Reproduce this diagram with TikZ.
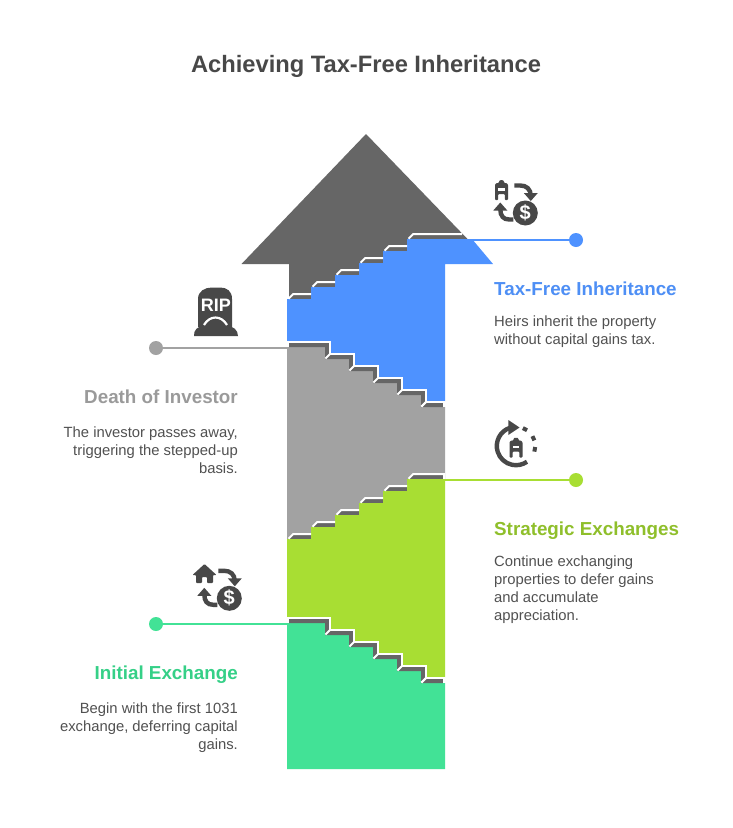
\documentclass[tikz,border=0pt]{standalone}
\usepackage{fontspec}
\setmainfont{Liberation Sans}
\definecolor{cdark}{HTML}{666666}
\definecolor{cicon}{HTML}{484848}
\definecolor{cblue}{HTML}{4E92FF}
\definecolor{cgray}{HTML}{A2A2A2}
\definecolor{cgreen}{HTML}{A8DE33}
\definecolor{cteal}{HTML}{42E296}
\definecolor{tblue}{HTML}{4E8FF5}
\definecolor{tgray}{HTML}{9A9A9A}
\definecolor{tgreen}{HTML}{8FBF2B}
\definecolor{tteal}{HTML}{35D087}
\tikzset{
  dot/.style={circle,inner sep=0pt,minimum size=14pt,fill=#1},
  link/.style={line width=2pt,draw=#1},
  whiteedge/.style={draw=white,line width=2pt,line join=miter,line cap=butt},
  heading/.style={inner sep=0pt,font=\fontsize{18.8}{22}\selectfont\bfseries,text=#1},
  bodytxt/.style={inner sep=0pt,font=\fontsize{14.8}{18}\selectfont,text=cicon!95!white},
  iconline/.style={draw=cicon,line width=4.4pt,line cap=butt}
}
% x y : top left of a small building 13x20
\newcommand{\bldgicon}[2]{%
  \begin{scope}[shift={(#1,#2)}]
    \fill[cicon,rounded corners=0.8pt] (0,20) -- (0,4.5) -- (1.5,3) -- (4,3) -- (4,0.8) -- (6.5,0) -- (9,0.8) -- (9,3) -- (11.5,3) -- (13,4.5) -- (13,20) -- (9.8,20) -- (9.8,14) -- (3.2,14) -- (3.2,20) -- cycle;
    \fill[white] (3.4,8.4) rectangle (9.6,10.6);
  \end{scope}}
% x y : centre of a dollar coin
\newcommand{\coinicon}[3]{%
  \node[circle,fill=cicon,minimum size=25pt,inner sep=0pt,text=white,font=\fontsize{20}{20}\selectfont\bfseries] (#3) at (#1,#2) {\$};}
% x y : the pair of bent arrows, measured from the coin centre
\newcommand{\swaparrows}[2]{%
  \begin{scope}[shift={(#1,#2)}]
    \draw[iconline] (-11,-27.5) -- (-5,-27.5) .. controls (1,-27.5) and (5.5,-24) .. (5.5,-17);
    \fill[cicon] (-1.5,-20) -- (12.5,-20) -- (5.5,-12) -- cycle;
    \draw[iconline] (-12,6.5) -- (-16,6.5) .. controls (-22,6.5) and (-25,3) .. (-25,-4);
    \fill[cicon] (-32,-2.5) -- (-18,-2.5) -- (-25,-10.5) -- cycle;
  \end{scope}}
\begin{document}
\begin{tikzpicture}[x=1pt,y=-1pt]
\useasboundingbox (0,0) rectangle (732,828);
\fill[white] (0,0) rectangle (732,828);

\node[inner sep=0pt,font=\fontsize{23.7}{28}\selectfont\bfseries,text=cicon] (title) at (366,66.5) {Achieving Tax-Free Inheritance};

% arrow head
\fill[cdark] (366,134) -- (241.5,264) -- (289,264) -- (289,299) -- (311,299) -- (311,287) -- (335,287) -- (335,275) -- (359,275) -- (359,263) -- (383,263) -- (383,251) -- (407,251) -- (407,239) -- (467.5,239) -- cycle;

% bottom part
\fill[cteal] (287,623) -- (325,623) -- (325,635) -- (349,635) -- (349,647) -- (373,647) -- (373,659) -- (397,659) -- (397,671) -- (421,671) -- (421,683) -- (445,683) -- (445,769) -- (287,769) -- cycle;
% dark strip above teal
\fill[cdark] (289,619) -- (329,619) -- (329,631) -- (353,631) -- (353,643) -- (377,643) -- (377,655) -- (401,655) -- (401,667) -- (425,667) -- (425,679) -- (443,679) -- (443,683) -- (421,683) -- (421,671) -- (397,671) -- (397,659) -- (373,659) -- (373,647) -- (349,647) -- (349,635) -- (325,635) -- (325,623) -- (289,623) -- cycle;

% gray
\fill[cgray] (287,347) -- (325,347) -- (325,359) -- (349,359) -- (349,371) -- (373,371) -- (373,383) -- (397,383) -- (397,395) -- (421,395) -- (421,407) -- (445,407) -- (445,479) -- (407,479) -- (407,491) -- (383,491) -- (383,503) -- (359,503) -- (359,515) -- (335,515) -- (335,527) -- (311,527) -- (311,539) -- (287,539) -- cycle;
% dark strip above gray
\fill[cdark] (289,343) -- (329,343) -- (329,355) -- (353,355) -- (353,367) -- (377,367) -- (377,379) -- (401,379) -- (401,391) -- (425,391) -- (425,403) -- (443,403) -- (443,407) -- (421,407) -- (421,395) -- (397,395) -- (397,383) -- (373,383) -- (373,371) -- (349,371) -- (349,359) -- (325,359) -- (325,347) -- (289,347) -- cycle;

% treads above green
\foreach \i in {0,...,4}{
  \pgfmathsetmacro{\xa}{287+24*\i}
  \pgfmathsetmacro{\ya}{539-12*\i}
  \fill[cdark] (\xa+2,\ya) -- (\xa+6,\ya-4) -- (\xa+24,\ya-4) -- (\xa+24,\ya) -- cycle;
}
\fill[cdark] (409,479) -- (413,475) -- (443,475) -- (443,479) -- cycle;

% green
\fill[cgreen] (287,539) -- (311,539) -- (311,527) -- (335,527) -- (335,515) -- (359,515) -- (359,503) -- (383,503) -- (383,491) -- (407,491) -- (407,479) -- (445,479) -- (445,677) -- (427,677) -- (427,665) -- (403,665) -- (403,653) -- (379,653) -- (379,641) -- (355,641) -- (355,629) -- (331,629) -- (331,617) -- (287,617) -- cycle;

% blue
\fill[cblue] (287,299) -- (311,299) -- (311,287) -- (335,287) -- (335,275) -- (359,275) -- (359,263) -- (383,263) -- (383,251) -- (407,251) -- (407,239) -- (472,239) -- (493,264) -- (445,264) -- (445,401) -- (427,401) -- (427,389) -- (403,389) -- (403,377) -- (379,377) -- (379,365) -- (355,365) -- (355,353) -- (331,353) -- (331,341) -- (287,341) -- cycle;

% white edges: upper stairs
\foreach \b/\xe in {299/462,539/445}{
  \foreach \i in {0,...,5}{
    \pgfmathsetmacro{\xa}{287+24*\i}
    \pgfmathsetmacro{\ya}{\b-12*\i}
    \pgfmathsetmacro{\xb}{\i==5 ? \xe : \xa+24}
    \draw[whiteedge] (\xa+1.5,\ya-0.3) -- (\xa+6.2,\ya-5) -- (\xb,\ya-5);
  }
}
\draw[whiteedge] (444,473) -- (444,479);

% white edges: lower stairs
\foreach \t in {341,617}{
  \draw[whiteedge] (287,\t+1) -- (330,\t+1) -- (330,\t+13) -- (354,\t+13) -- (354,\t+25) -- (378,\t+25) -- (378,\t+37) -- (402,\t+37) -- (402,\t+49) -- (426,\t+49) -- (426,\t+61) -- (445,\t+61);
  \draw[whiteedge] (444,\t+61) -- (444,\t+66);
  \fill[white] (287,\t+2) rectangle (289,\t+6);
  \foreach \i in {0,...,4}{
    \draw[whiteedge] (330+24*\i,\t+13+12*\i) -- (325.4+24*\i,\t+17.6+12*\i);
  }
  \draw[whiteedge] (426,\t+61) -- (421.4,\t+65.6);
}

% leaders
\node[dot=cblue] (dotb) at (576,240) {};
\node[dot=cgray] (dotg) at (156,348) {};
\node[dot=cgreen] (dotl) at (576,480) {};
\node[dot=cteal] (dott) at (156,624) {};
\coordinate (endb) at (445,240);
\coordinate (endg) at (287,348);
\coordinate (endl) at (445,480);
\coordinate (endt) at (287,624);
\draw[link=cblue] (endb) -- (dotb);
\draw[link=cgray] (dotg) -- (endg);
\draw[link=cgreen] (endl) -- (dotl);
\draw[link=cteal] (dott) -- (endt);

% texts
\node[heading=tblue,anchor=base west] (h1) at (494,295) {Tax-Free Inheritance};
\node[bodytxt,anchor=north west,align=left] (b1) at (494,315.5) {Heirs inherit the property\\without capital gains tax.};
\node[heading=tgray,anchor=base east] (h2) at (238,403) {Death of Investor};
\node[bodytxt,anchor=north east,align=right] (b2) at (238,426.5) {The investor passes away,\\triggering the stepped-up\\basis.};
\node[heading=tgreen,anchor=base west] (h3) at (494,535) {Strategic Exchanges};
\node[bodytxt,anchor=north west,align=left] (b3) at (494,555.5) {Continue exchanging\\properties to defer gains\\and accumulate\\appreciation.};
\node[heading=tteal,anchor=base east] (h4) at (238,679) {Initial Exchange};
\node[bodytxt,anchor=north east,align=right] (b4) at (238,702.5) {Begin with the first 1031\\exchange, deferring capital\\gains.};

% icon: building swap
\bldgicon{495}{180}
\swaparrows{525.3}{213}
\coinicon{525.3}{213}{coina}

% icon: house swap
\fill[cicon,rounded corners=0.8pt] (204.5,564) -- (216.5,575) -- (213,575) -- (213,583) -- (207,583) -- (207,577) -- (202,577) -- (202,583) -- (196,583) -- (196,575) -- (192.5,575) -- cycle;
\swaparrows{229.3}{598.3}
\coinicon{229.3}{598.3}{coinb}

% icon: tomb
\fill[cicon] (198,327) -- (198,299) .. controls (198,291) and (205,287.5) .. (212,287.5) -- (220,287.5) .. controls (227,287.5) and (232,291) .. (232,299) -- (232,327) -- cycle;
\fill[cicon] (194,336) .. controls (193.5,330) and (198,326) .. (203,326.5) .. controls (205,321) and (210,318) .. (215.5,318) .. controls (221,318) and (226,321) .. (228,326.5) .. controls (233,326) and (238,330) .. (238,336) -- cycle;
\draw[white,line width=2.2pt] (204,325) .. controls (207,320) and (211,317.5) .. (215.5,317.5) .. controls (220,317.5) and (224,320) .. (227,325);
\node[inner sep=0pt,text=white,font=\fontsize{18}{18}\selectfont\bfseries] (rip) at (216,305) {RIP};

% icon: cycle
\draw[iconline] (516,446) ++(-108:19.2) arc[start angle=-108,end angle=-305,radius=19.2];
\fill[cicon] (508.3,420) -- (519.5,427.5) -- (508.3,435) -- cycle;
\foreach \a in {-62,-24,10}{
  \draw[iconline,line width=4pt] (516,446) ++(\a-7:19.2) arc[start angle=\a-7,end angle=\a+7,radius=19.2];
}
\bldgicon{509.5}{437.5}
\end{tikzpicture}
\end{document}
